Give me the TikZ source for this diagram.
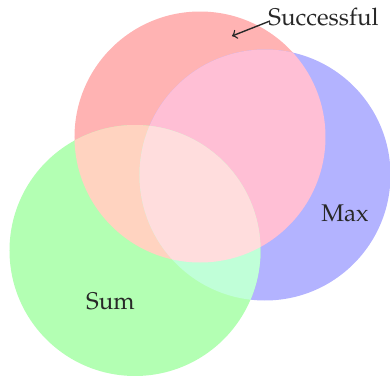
\documentclass[tikz,border=0pt]{standalone}
\usepackage[T1]{fontenc}
\renewcommand{\rmdefault}{ppl}
\usetikzlibrary{arrows}
\definecolor{cR}{RGB}{255,179,179}
\definecolor{cB}{RGB}{179,179,255}
\definecolor{cG}{RGB}{179,255,179}
\definecolor{cRB}{RGB}{255,191,213}
\definecolor{cRG}{RGB}{255,211,192}
\definecolor{cGB}{RGB}{192,255,216}
\definecolor{cRGB}{RGB}{255,221,221}
\definecolor{ink}{RGB}{40,40,40}
\tikzset{
  lbl/.style={font=\fontsize{10.5}{12}\selectfont, text=ink, inner sep=0pt, anchor=base},
  pointer/.style={draw=ink, line width=0.6pt, ->, >=to}
}
\begin{document}
\begin{tikzpicture}[x=0.435pt, y=-0.435pt]
\useasboundingbox (0,0) rectangle (390,376);
\def\Rc{(200,137) circle (125.5)}
\def\Bc{(265,175) circle (125.5)}
\def\Gc{(135,250.5) circle (125.5)}
% single sets
\fill[cR] \Rc;
\fill[cB] \Bc;
\fill[cG] \Gc;
% pairwise
\begin{scope}
  \clip \Rc;
  \fill[cRB] \Bc;
\end{scope}
\begin{scope}
  \clip \Rc;
  \fill[cRG] \Gc;
\end{scope}
\begin{scope}
  \clip \Bc;
  \fill[cGB] \Gc;
\end{scope}
% triple
\begin{scope}
  \clip \Rc;
  \clip \Bc;
  \fill[cRGB] \Gc;
\end{scope}
% labels
\node[lbl, anchor=base west] (succ) at (268,25) {Successful};
\coordinate (tip) at (232,36);
\draw[pointer] ([shift={(2,-4)}]succ.base west) -- (tip);
\node[lbl] (sum) at (110.5,309) {Sum};
\node[lbl] (max) at (345,221) {Max};
\end{tikzpicture}
\end{document}
